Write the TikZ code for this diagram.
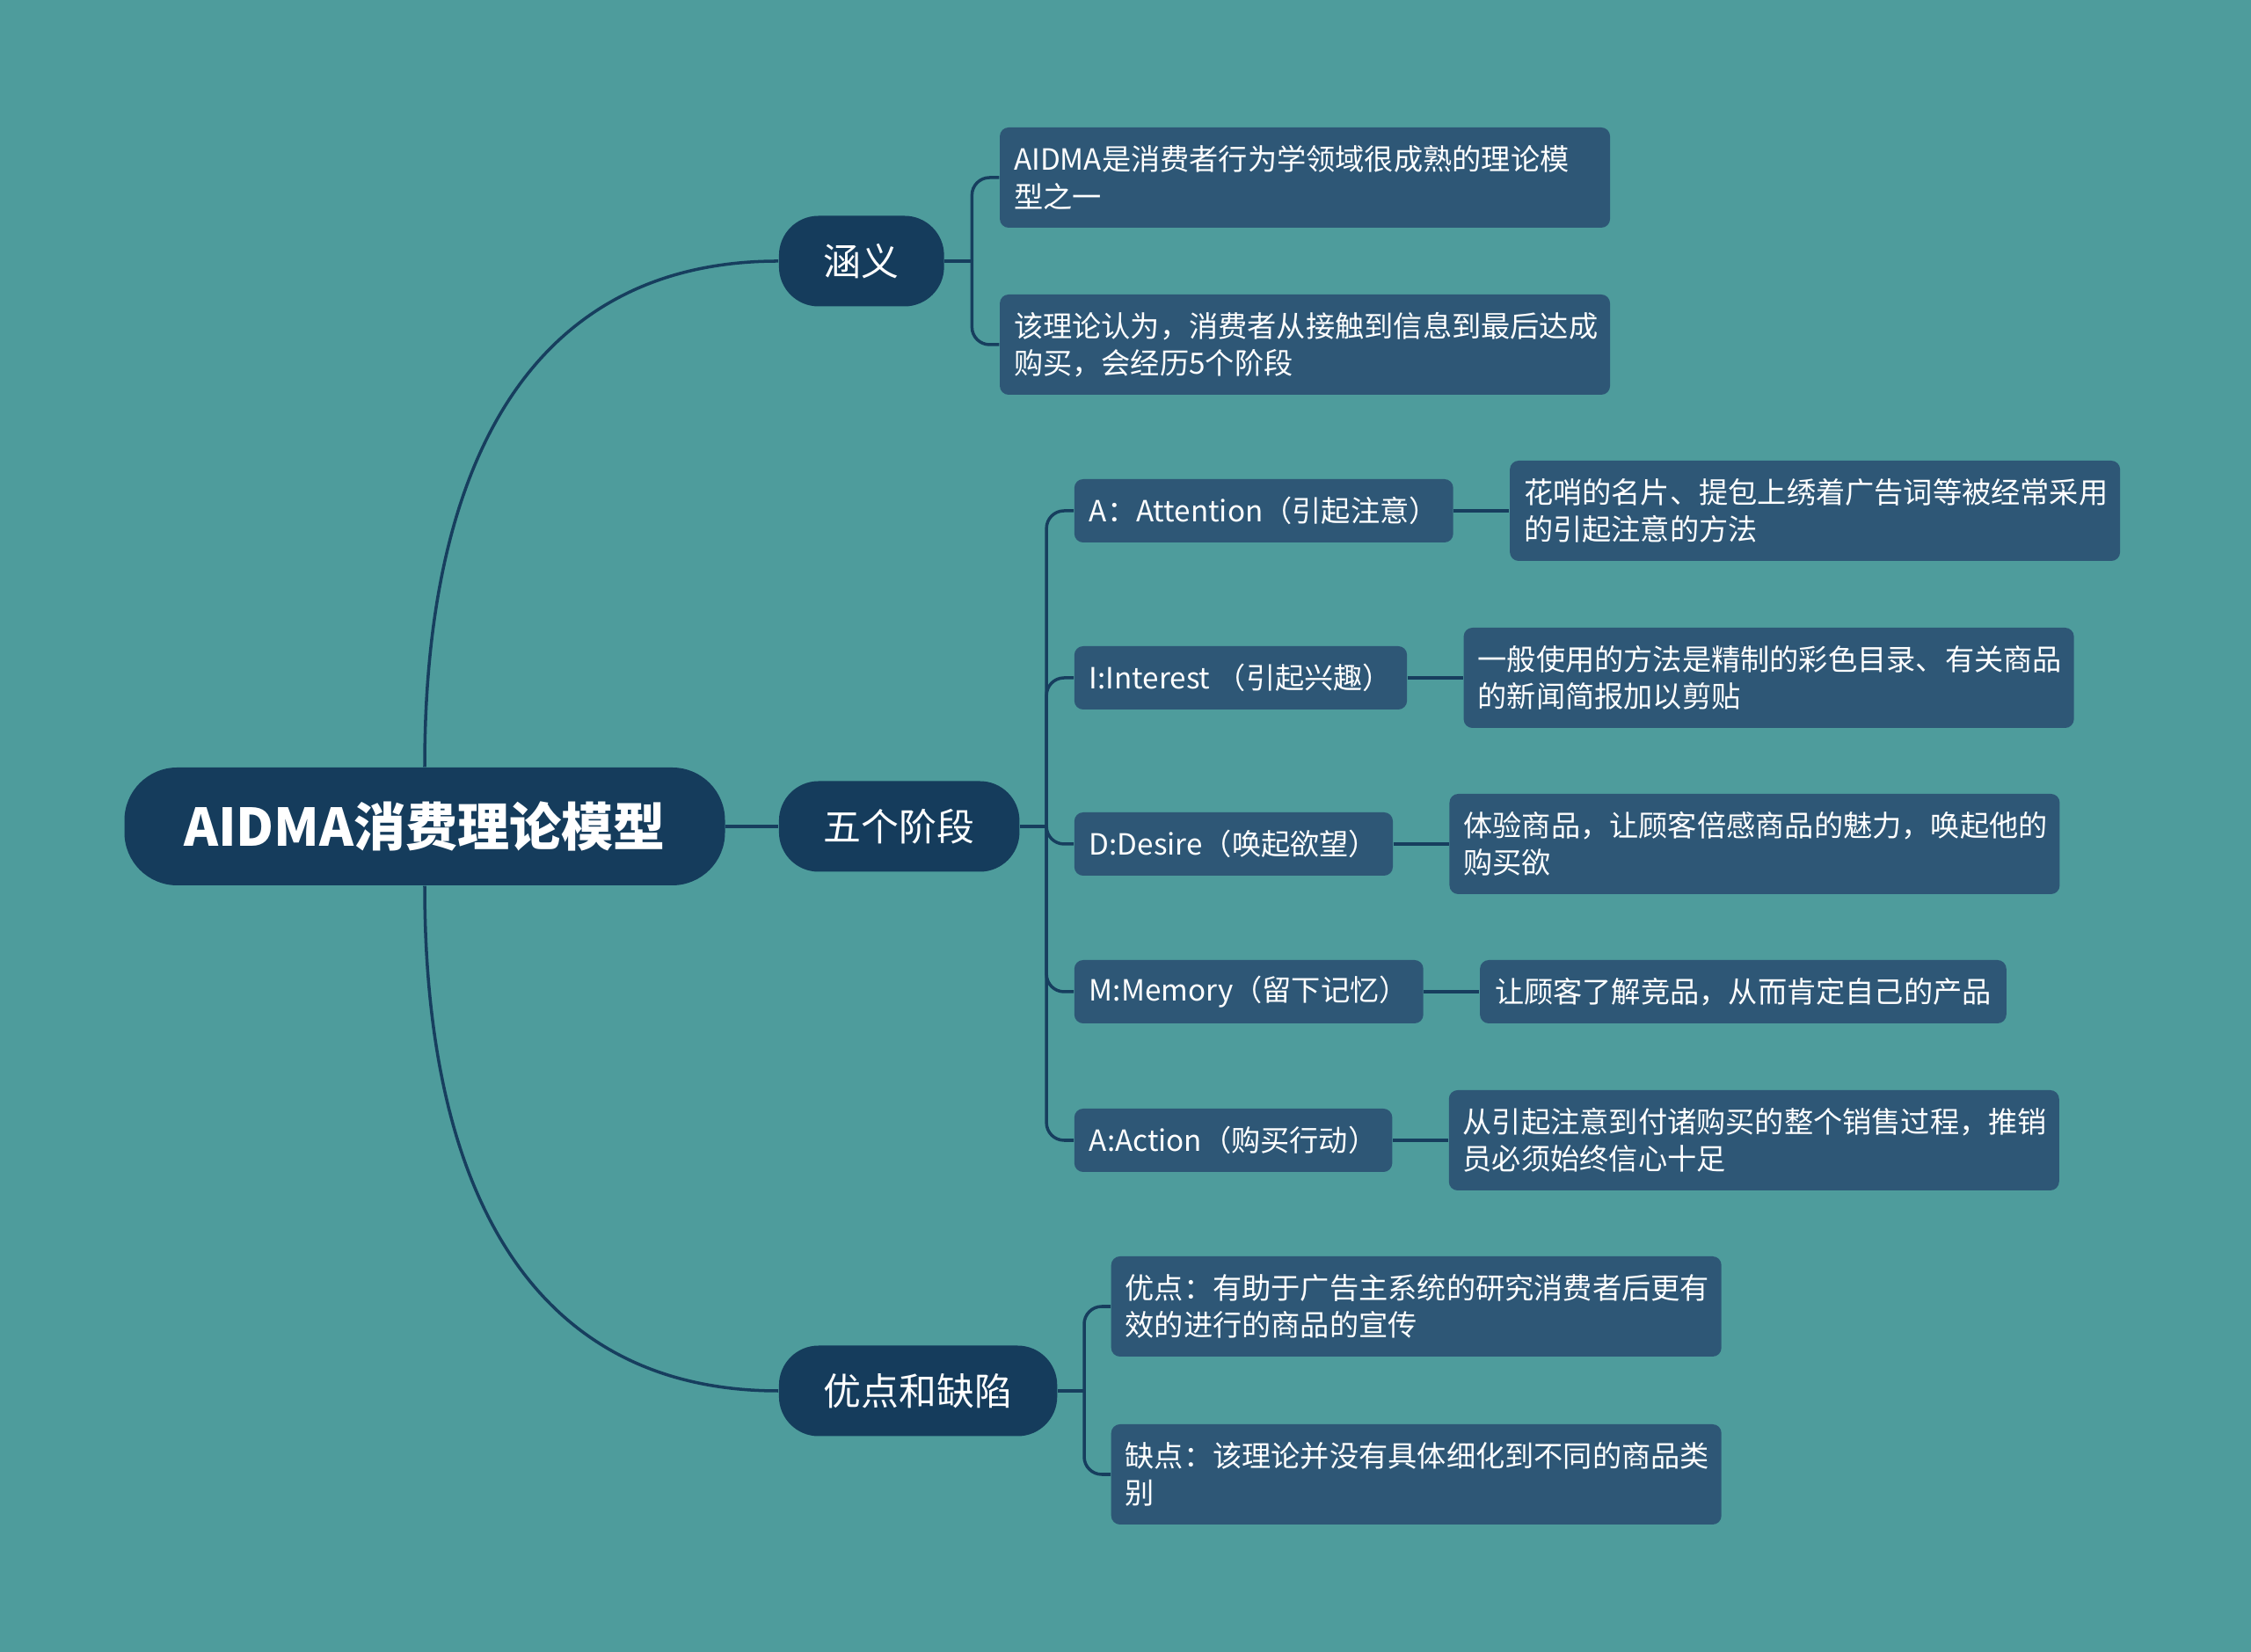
\documentclass[tikz,border=0pt]{standalone}
\usepackage{fontspec}
\setmainfont{Noto Sans CJK SC}
\usetikzlibrary{positioning}

\definecolor{bgteal}{HTML}{4E9C9C}
\definecolor{rootnavy}{HTML}{153C5C}
\definecolor{boxblue}{HTML}{2E5776}
\definecolor{linenavy}{HTML}{173E5E}

\begin{document}
\begin{tikzpicture}[
                node distance=0.63cm,
                root/.style={
                    rectangle,
                    fill=rootnavy,
                    text=white,
                    rounded corners=0.6cm,
                    minimum width=6.83cm,
                    minimum height=1.34cm,
                    font=\fontsize{16.8}{19}\selectfont\bfseries
                },
                topic/.style={
                    rectangle,
                    fill=rootnavy,
                    text=white,
                    rounded corners=0.45cm,
                    inner xsep=0.51cm,
                    minimum height=1.03cm,
                    font=\fontsize{12.2}{15}\selectfont
                },
                stagebox/.style={
                    rectangle,
                    fill=boxblue,
                    text=white,
                    rounded corners=0.1cm,
                    inner xsep=0.17cm,
                    minimum height=0.72cm,
                    font=\fontsize{9.45}{12.1}\selectfont
                },
                leaf/.style={
                    stagebox,
                    align=left,
                    text width=6.62cm,
                    inner xsep=0.16cm,
                    minimum height=1.14cm
                },
                line/.style={
                    draw,
                    color=linenavy,
                    line width=1pt
                },
                fork/.style={
                    line,
                    rounded corners=0.2cm
                }]

                \fill [bgteal] (0,0) rectangle (25.6,18.79);

                \node [root] (root) at (4.83,9.39) {AIDMA消费理论模型};

                \node [topic, right=0.6cm of root, yshift=6.43cm] (meaning) {涵义};
                \node [topic, right=0.6cm of root] (stages) {五个阶段};
                \node [topic, right=0.6cm of root, yshift=-6.42cm] (merits) {优点和缺陷};

                \node [leaf, right=0.62cm of meaning, yshift=0.95cm] (def1) {AIDMA是消费者行为学领域很成熟的理论模\\型之一};
                \node [leaf, right=0.62cm of meaning, yshift=-0.95cm] (def2) {该理论认为，消费者从接触到信息到最后达成\\购买，会经历5个阶段};

                \node [stagebox, right=0.61cm of stages, yshift=3.59cm] (sA) {A：Attention（引起注意）};
                \node [stagebox, right=0.61cm of stages, yshift=1.69cm] (sI) {I:Interest （引起兴趣）};
                \node [stagebox, right=0.61cm of stages, yshift=-0.2cm] (sD) {D:Desire（唤起欲望）};
                \node [stagebox, right=0.61cm of stages, yshift=-1.88cm] (sM) {M:Memory（留下记忆）};
                \node [stagebox, right=0.61cm of stages, yshift=-3.57cm] (sAct) {A:Action（购买行动）};

                \node [leaf, right=of sA] (dA) {花哨的名片、提包上绣着广告词等被经常采用\\的引起注意的方法};
                \node [leaf, right=of sI] (dI) {一般使用的方法是精制的彩色目录、有关商品\\的新闻简报加以剪贴};
                \node [leaf, right=of sD] (dD) {体验商品，让顾客倍感商品的魅力，唤起他的\\购买欲};
                \node [stagebox, right=of sM] (dM) {让顾客了解竞品，从而肯定自己的产品};
                \node [leaf, right=of sAct] (dAct) {从引起注意到付诸购买的整个销售过程，推销\\员必须始终信心十足};

                \node [leaf, right=0.6cm of merits, yshift=0.96cm] (pro) {优点：有助于广告主系统的研究消费者后更有\\效的进行的商品的宣传};
                \node [leaf, right=0.6cm of merits, yshift=-0.95cm] (con) {缺点：该理论并没有具体细化到不同的商品类\\别};

                \draw [line] (root.north) .. controls +(0,3.55) and +(-2.75,0) .. (meaning.west);
                \draw [line] (root.east) -- (stages.west);
                \draw [line] (root.south) .. controls +(0,-3.55) and +(-2.75,0) .. (merits.west);

                \draw [line] (meaning.east) -- ++(0.31,0) coordinate (mfork);
                \draw [fork] (mfork) |- (def1.west);
                \draw [fork] (mfork) |- (def2.west);

                \draw [line] (stages.east) -- ++(0.3,0) coordinate (sfork);
                \draw [fork] (sfork) |- (sA.west);
                \draw [fork] (sfork) |- (sI.west);
                \draw [fork] (sfork) |- (sD.west);
                \draw [fork] (sfork) |- (sM.west);
                \draw [fork] (sfork) |- (sAct.west);

                \draw [line] (merits.east) -- ++(0.3,0) coordinate (pfork);
                \draw [fork] (pfork) |- (pro.west);
                \draw [fork] (pfork) |- (con.west);

                \draw [line] (sA) -- (dA);
                \draw [line] (sI) -- (dI);
                \draw [line] (sD) -- (dD);
                \draw [line] (sM) -- (dM);
                \draw [line] (sAct) -- (dAct);

            \end{tikzpicture}
\end{document}
